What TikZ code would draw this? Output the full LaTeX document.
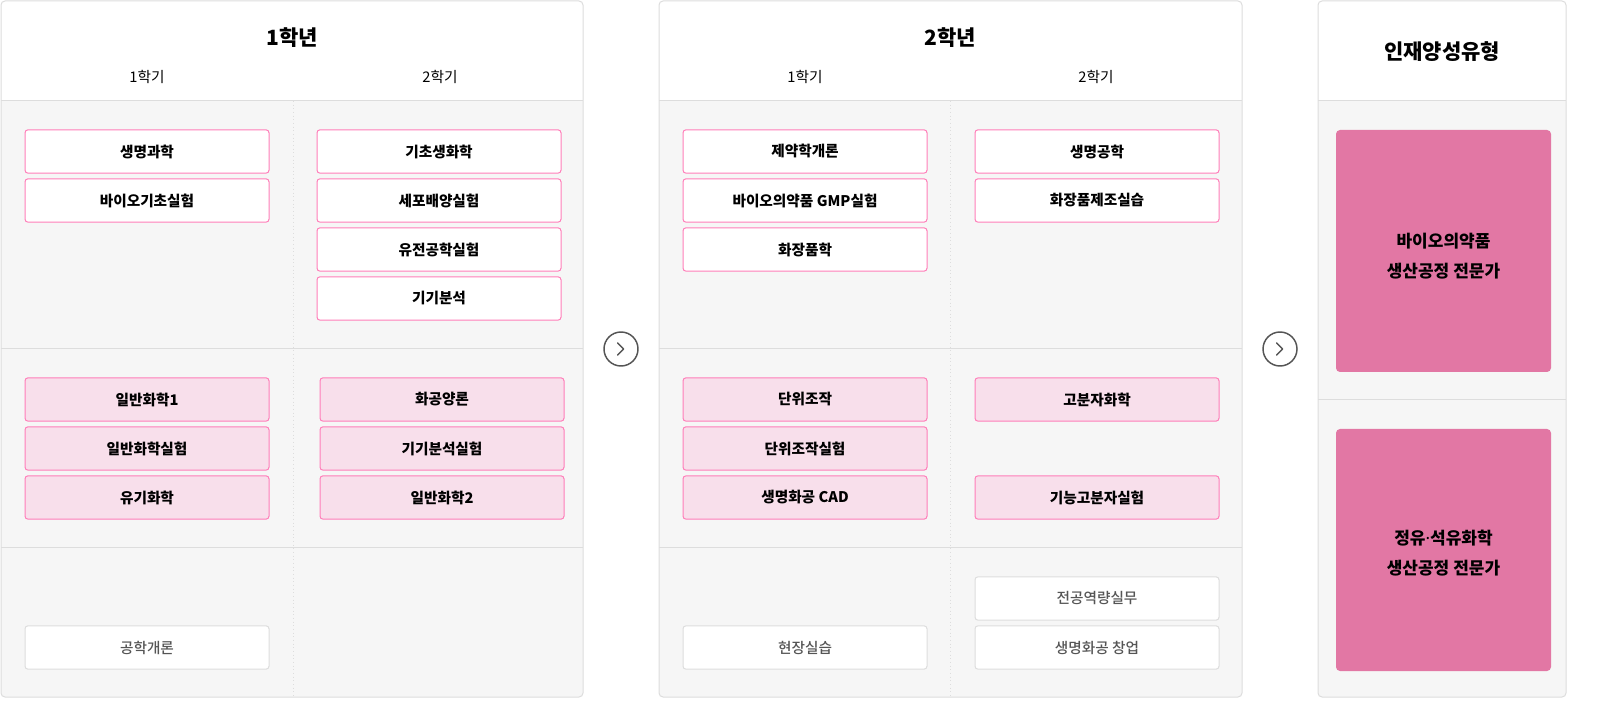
\documentclass[tikz,border=0pt]{standalone}
\usepackage{fontspec}
\setmainfont{Noto Sans CJK KR}
\newfontfamily\medfont{Noto Sans CJK KR Medium}
\newfontfamily\dotfont{Noto Sans}
\definecolor{pborder}{HTML}{FF7EB9}
\definecolor{pfill}{HTML}{F8DFEB}
\definecolor{bigpink}{HTML}{E277A4}
\definecolor{lgrey}{HTML}{DDDDDD}
\definecolor{bodygrey}{HTML}{F6F6F6}
\definecolor{txtgrey}{HTML}{555555}
\tikzset{
  course/.style={draw=pborder, fill=white, line width=0.75pt, rounded corners=2.25pt,
    minimum width=183pt, minimum height=32.5pt, inner sep=0pt,
    font=\fontsize{11pt}{12pt}\selectfont\bfseries, text=black},
  pcourse/.style={course, fill=pfill},
  gcourse/.style={course, draw=lgrey, text=txtgrey, font=\fontsize{11pt}{12pt}\selectfont\medfont},
  bigbox/.style={fill=bigpink, rounded corners=3pt, minimum width=161.25pt, minimum height=181.5pt,
    inner sep=0pt},
  bigtext/.style={align=center, inner sep=0pt, font=\fontsize{12.75pt}{22.5pt}\selectfont\bfseries},
  yeartitle/.style={font=\fontsize{15.75pt}{18pt}\selectfont\bfseries},
  semlabel/.style={font=\fontsize{11pt}{12pt}\selectfont},
  panelline/.style={draw=lgrey, line width=0.75pt},
  coldiv/.style={draw=lgrey, line width=0.75pt, dotted},
  nextcirc/.style={circle, draw=txtgrey, line width=1.1pt, minimum size=25.5pt, inner sep=0pt, fill=white},
}
\begin{document}
\begin{tikzpicture}[x=0.75pt,y=-0.75pt]
\path[use as bounding box] (0,0) rectangle (1600,712);
\fill[white] (0,0) rectangle (1600,712);
% ---- Panel 1 ----
\fill[bodygrey, rounded corners=3pt] (1,1) rectangle (583,697);
\fill[white, rounded corners=3pt] (1,1) rectangle (583,60);
\fill[white] (1,40) rectangle (583,101);
\draw[panelline] (1,101) -- (583,101);
\draw[panelline] (1,349) -- (583,349);
\draw[panelline] (1,548) -- (583,548);
\draw[coldiv] (293,101) -- (293,697);
\draw[panelline, rounded corners=3pt] (1,1) rectangle (583,697);
\node[yeartitle] (y1) at (292,38) {1학년};
\node[semlabel] (y1s1) at (147,77) {1학기};
\node[semlabel] (y1s2) at (440,77) {2학기};
\node[course] (a1) at (147,151.5) {생명과학};
\node[course] (a2) at (147,200.5) {바이오기초실험};
\node[course] (b1) at (439,151.5) {기초생화학};
\node[course] (b2) at (439,200.5) {세포배양실험};
\node[course] (b3) at (439,249.5) {유전공학실험};
\node[course] (b4) at (439,298.5) {기기분석};
\node[pcourse] (a3) at (147,399.5) {일반화학1};
\node[pcourse] (a4) at (147,448.5) {일반화학실험};
\node[pcourse] (a5) at (147,497.5) {유기화학};
\node[pcourse] (b5) at (442,399.5) {화공양론};
\node[pcourse] (b6) at (442,448.5) {기기분석실험};
\node[pcourse] (b7) at (442,497.5) {일반화학2};
\node[gcourse] (a6) at (147,647.5) {공학개론};
% ---- arrow 1 ----
\node[nextcirc] (n1) at (621,349) {};
\draw[txtgrey, line width=1.1pt, line cap=round, line join=round] ([xshift=-2.5pt,yshift=4.5pt]n1.center) -- ([xshift=2pt]n1.center) -- ([xshift=-2.5pt,yshift=-4.5pt]n1.center);
% ---- Panel 2 ----
\fill[bodygrey, rounded corners=3pt] (659,1) rectangle (1242,697);
\fill[white, rounded corners=3pt] (659,1) rectangle (1242,60);
\fill[white] (659,40) rectangle (1242,101);
\draw[panelline] (659,101) -- (1242,101);
\draw[panelline] (659,349) -- (1242,349);
\draw[panelline] (659,548) -- (1242,548);
\draw[coldiv] (950,101) -- (950,697);
\draw[panelline, rounded corners=3pt] (659,1) rectangle (1242,697);
\node[yeartitle] (y2) at (950,38) {2학년};
\node[semlabel] (y2s1) at (805,77) {1학기};
\node[semlabel] (y2s2) at (1096,77) {2학기};
\node[course] (c1) at (805,151.5) {제약학개론};
\node[course] (c2) at (805,200.5) {바이오의약품 GMP실험};
\node[course] (c3) at (805,249.5) {화장품학};
\node[course] (d1) at (1097,151.5) {생명공학};
\node[course] (d2) at (1097,200.5) {화장품제조실습};
\node[pcourse] (c4) at (805,399.5) {단위조작};
\node[pcourse] (c5) at (805,448.5) {단위조작실험};
\node[pcourse] (c6) at (805,497.5) {생명화공 CAD};
\node[pcourse] (d3) at (1097,399.5) {고분자화학};
\node[pcourse] (d4) at (1097,497.5) {기능고분자실험};
\node[gcourse] (c7) at (805,647.5) {현장실습};
\node[gcourse] (d5) at (1097,598.5) {전공역량실무};
\node[gcourse] (d6) at (1097,647.5) {생명화공 창업};
% ---- arrow 2 ----
\node[nextcirc] (n2) at (1280,349) {};
\draw[txtgrey, line width=1.1pt, line cap=round, line join=round] ([xshift=-2.5pt,yshift=4.5pt]n2.center) -- ([xshift=2pt]n2.center) -- ([xshift=-2.5pt,yshift=-4.5pt]n2.center);
% ---- Panel 3 ----
\fill[bodygrey, rounded corners=3pt] (1318,1) rectangle (1566,697);
\fill[white, rounded corners=3pt] (1318,1) rectangle (1566,60);
\fill[white] (1318,40) rectangle (1566,101);
\draw[panelline] (1318,101) -- (1566,101);
\draw[panelline] (1318,400) -- (1566,400);
\draw[panelline, rounded corners=3pt] (1318,1) rectangle (1566,697);
\node[yeartitle] (t3) at (1442,52) {인재양성유형};
\node[bigbox] (r1) at (1443.5,251) {};
\node[bigtext] (r1t) at (1443.5,256) {바이오의약품\\생산공정 전문가};
\node[bigbox] (r2) at (1443.5,550) {};
\node[bigtext] (r2t) at (1443.5,553) {정유{\dotfont\bfseries ·}석유화학\\생산공정 전문가};
\end{tikzpicture}
\end{document}
